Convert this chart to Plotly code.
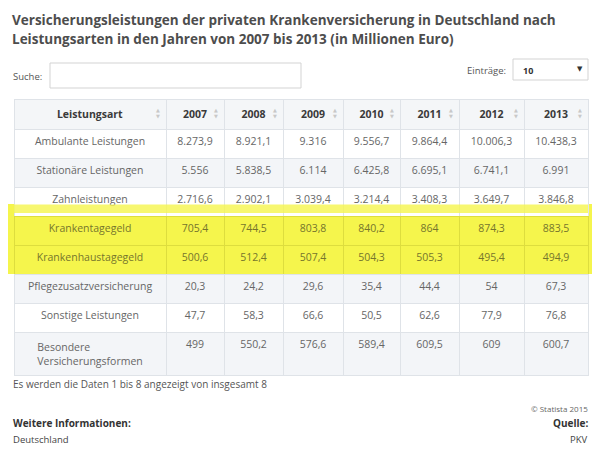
import plotly.graph_objects as go

# ---------------- data ----------------
title_lines = [
    "Versicherungsleistungen der privaten Krankenversicherung in Deutschland nach",
    "Leistungsarten in den Jahren von 2007 bis 2013 (in Millionen Euro)",
]
header_label = "Leistungsart"
years = ["2007", "2008", "2009", "2010", "2011", "2012", "2013"]
categories = [
    "Ambulante Leistungen",
    "Stationäre Leistungen",
    "Zahnleistungen",
    "Krankentagegeld",
    "Krankenhaustagegeld",
    "Pflegezusatzversicherung",
    "Sonstige Leistungen",
    "Besondere<br>Versicherungsformen",
]
ambulante = [8273.9, 8921.1, 9316, 9556.7, 9864.4, 10006.3, 10438.3]
stationaer = [5556, 5838.5, 6114, 6425.8, 6695.1, 6741.1, 6991]
zahn = [2716.6, 2902.1, 3039.4, 3214.4, 3408.3, 3649.7, 3846.8]
krankentagegeld = [705.4, 744.5, 803.8, 840.2, 864, 874.3, 883.5]
krankenhaustagegeld = [500.6, 512.4, 507.4, 504.3, 505.3, 495.4, 494.9]
pflege = [20.3, 24.2, 29.6, 35.4, 44.4, 54, 67.3]
sonstige = [47.7, 58.3, 66.6, 50.5, 62.6, 77.9, 76.8]
besondere = [499, 550.2, 576.6, 589.4, 609.5, 609, 600.7]
highlighted_rows = [3, 4]

footer_count = "Es werden die Daten 1 bis 8 angezeigt von insgesamt 8"
search_label = "Suche:"
entries_label = "Einträge:"
entries_value = "10"
copyright_text = "© Statista 2015"
info_label = "Weitere Informationen:"
info_value = "Deutschland"
source_label = "Quelle:"
source_value = "PKV"

# ---------------- helpers ----------------
# the page body has an 8px margin; the figure fills the rest of the 600x452 window
OFF = 8
W, H = 600 - OFF, 452 - OFF


def px(x):
    return (x - OFF) / W


def py(y):
    return 1 - (y - OFF) / H


def de_fmt(v):
    if float(v).is_integer():
        s = f"{int(v):,}"
    else:
        s = f"{v:,.1f}"
    return s.replace(",", "#").replace(".", ",").replace("#", ".")


series = [ambulante, stationaer, zahn, krankentagegeld, krankenhaustagegeld,
          pflege, sonstige, besondere]
n_rows = len(categories)

columns = [categories]
for j in range(len(years)):
    columns.append([de_fmt(series[i][j]) for i in range(n_rows)])

YELLOW = "#f5f54c"
YELLOW_LINE = "#dddd3e"
GRAY_ROW = "#f3f5f8"
LINE = "#dfe3e8"
TEXT = "#666666"
OLIVE = "#76762c"

row_fill = []
row_line = []
row_font = []
for i in range(n_rows):
    if i in highlighted_rows:
        row_fill.append(YELLOW)
        row_line.append(YELLOW_LINE)
        row_font.append(OLIVE)
    else:
        row_fill.append(GRAY_ROW if i % 2 == 1 else "#ffffff")
        row_line.append(LINE)
        row_font.append(TEXT)

ncols = len(columns)
fill_colors = [row_fill for _ in range(ncols)]
line_colors = [row_line for _ in range(ncols)]
font_colors = [row_font for _ in range(ncols)]

col_widths = [152, 58, 59, 60, 57, 59, 65, 64]
table_left, table_right = 14, 588
table_top = 99

fig = go.Figure()
fig.add_trace(go.Table(
    domain=dict(x=[px(table_left), px(table_right)], y=[py(400), py(table_top)]),
    columnwidth=col_widths,
    header=dict(
        values=[f"<b>{header_label}</b>"] + [f"<b>{y}</b>" for y in years],
        fill_color="#f4f6f8",
        line_color=LINE,
        font=dict(family="Open Sans", size=10.5, color="#3a3a3a"),
        align="center",
        height=27,
    ),
    cells=dict(
        values=columns,
        fill_color=fill_colors,
        line_color=line_colors,
        font=dict(family="Open Sans", size=10.5, color=font_colors),
        align="center",
        height=29,
    ),
))

shapes = []
# highlighter band (behind the table for the margins)
shapes.append(dict(type="rect", xref="paper", yref="paper", layer="below",
                   x0=px(4), x1=px(595), y0=py(274), y1=py(204),
                   fillcolor=YELLOW, line=dict(width=0)))
# highlighter strip above the highlighted rows (over the table)
shapes.append(dict(type="rect", xref="paper", yref="paper", layer="above",
                   x0=px(table_left), x1=px(table_right), y0=py(213), y1=py(204.5),
                   fillcolor=YELLOW, opacity=0.8, line=dict(width=0)))
# search input
shapes.append(dict(type="rect", xref="paper", yref="paper", layer="above",
                   x0=px(50), x1=px(301), y0=py(88), y1=py(63),
                   fillcolor="#ffffff", line=dict(color="#d3d3d3", width=1)))
# entries dropdown
shapes.append(dict(type="rect", xref="paper", yref="paper", layer="above",
                   x0=px(513), x1=px(588), y0=py(80), y1=py(59),
                   fillcolor="#ffffff", line=dict(color="#d3d3d3", width=1)))

ann = []
FONT = "Open Sans"
ann.append(dict(text=f"<b>{title_lines[0]}</b>", x=px(10), y=py(20), xanchor="left",
                yanchor="middle", font=dict(family=FONT, size=13.5, color="#4d4d4d")))
ann.append(dict(text=f"<b>{title_lines[1]}</b>", x=px(10), y=py(39), xanchor="left",
                yanchor="middle", font=dict(family=FONT, size=13.5, color="#4d4d4d")))
ann.append(dict(text=search_label, x=px(11), y=py(76), xanchor="left", yanchor="middle",
                font=dict(family=FONT, size=9.5, color="#555555")))
ann.append(dict(text=entries_label, x=px(508), y=py(70), xanchor="right", yanchor="middle",
                font=dict(family=FONT, size=9.5, color="#555555")))
ann.append(dict(text=f"<b>{entries_value}</b>", x=px(521), y=py(70), xanchor="left",
                yanchor="middle", font=dict(family=FONT, size=9, color="#333333")))
ann.append(dict(text="▼", x=px(580), y=py(69.5), xanchor="center", yanchor="middle",
                font=dict(family="DejaVu Sans", size=7, color="#333333")))

# sort icons in header
edges = [table_left]
scale = (table_right - table_left) / sum(col_widths)
for w in col_widths:
    edges.append(edges[-1] + w * scale)
for k in range(len(col_widths)):
    xi = edges[k + 1] - 8
    ann.append(dict(text="▲", x=px(xi), y=py(110), xanchor="center", yanchor="middle",
                    font=dict(family="DejaVu Sans", size=5, color="#c8c8c8")))
    ann.append(dict(text="▼", x=px(xi), y=py(115.5), xanchor="center", yanchor="middle",
                    font=dict(family="DejaVu Sans", size=5, color="#c8c8c8")))

ann.append(dict(text=footer_count, x=px(11), y=py(384), xanchor="left", yanchor="middle",
                font=dict(family=FONT, size=10, color="#555555")))
ann.append(dict(text=copyright_text, x=px(590), y=py(408), xanchor="right", yanchor="middle",
                font=dict(family=FONT, size=8, color="#666666")))
ann.append(dict(text=f"<b>{info_label}</b>", x=px(11), y=py(423), xanchor="left",
                yanchor="middle", font=dict(family=FONT, size=10, color="#333333")))
ann.append(dict(text=info_value, x=px(11), y=py(439), xanchor="left", yanchor="middle",
                font=dict(family=FONT, size=9.5, color="#444444")))
ann.append(dict(text=f"<b>{source_label}</b>", x=px(590), y=py(423), xanchor="right",
                yanchor="middle", font=dict(family=FONT, size=10, color="#333333")))
ann.append(dict(text=source_value, x=px(590), y=py(439), xanchor="right", yanchor="middle",
                font=dict(family=FONT, size=9.5, color="#444444")))

for a in ann:
    a.update(xref="paper", yref="paper", showarrow=False)

fig.update_layout(
    width=W, height=H,
    margin=dict(l=0, r=0, t=0, b=0),
    paper_bgcolor="#ffffff",
    shapes=shapes,
    annotations=ann,
)

fig.write_html("out.html")
